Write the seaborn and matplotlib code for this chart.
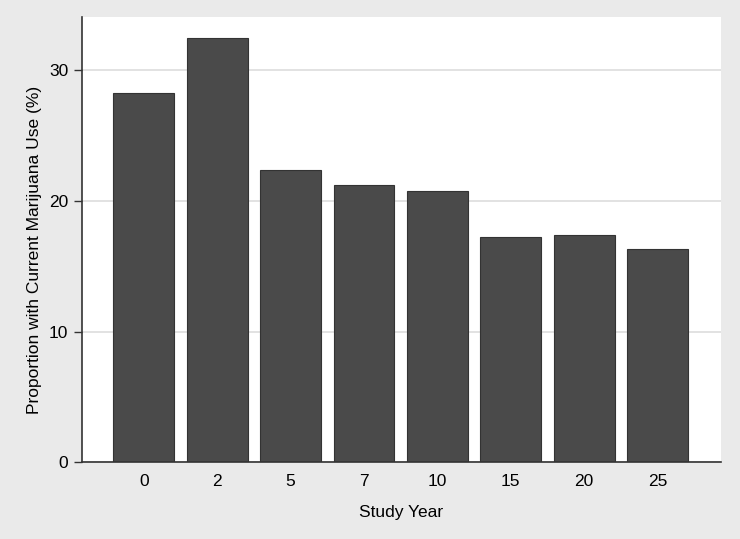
import numpy as np
import pandas as pd
import matplotlib
matplotlib.use("Agg")
import matplotlib.pyplot as plt
import seaborn as sns

study_year = ["0", "2", "5", "7", "10", "15", "20", "25"]
pct_current_use = [28.2, 32.4, 22.3, 21.2, 20.7, 17.2, 17.4, 16.3]

df = pd.DataFrame({"year": study_year, "pct": pct_current_use})

sns.set_style("white")
plt.rcParams['font.family'] = ['Liberation Sans', 'DejaVu Sans']

bg = "#eaeaea"
fig = plt.figure(figsize=(7.4, 5.39), dpi=100, facecolor=bg)
ax = fig.add_axes([0.111, 0.142, 0.863, 0.826])
ax.set_facecolor("white")

sns.barplot(data=df, x="year", y="pct", order=study_year, color="#4a4a4a",
            saturation=1, width=0.83, edgecolor="#333333", linewidth=0.8, ax=ax)

ax.set_ylim(0, 34)
ax.set_xlim(-0.84, 7.86)
ax.set_yticks([0, 10, 20, 30])
ax.yaxis.grid(True, color="#dddddd", linewidth=1.2)
ax.set_axisbelow(True)

for s in ["top", "right"]:
    ax.spines[s].set_visible(False)
for s in ["left", "bottom"]:
    ax.spines[s].set_color("#333333")
    ax.spines[s].set_linewidth(1.2)

fs = 12.5
ax.tick_params(axis="y", left=True, length=6, width=1, color="#333333",
               labelsize=fs, pad=4, labelcolor="black")
ax.tick_params(axis="x", bottom=False, length=0, labelsize=fs, pad=8,
               labelcolor="black")
ax.set_xlabel("Study Year", fontsize=fs, labelpad=12, color="black")
ax.set_ylabel("Proportion with Current Marijuana Use (%)", fontsize=fs,
              labelpad=5, color="black")
ax.yaxis.label.set_y(0.477)

fig.savefig("out.png", dpi=100, facecolor=bg)
